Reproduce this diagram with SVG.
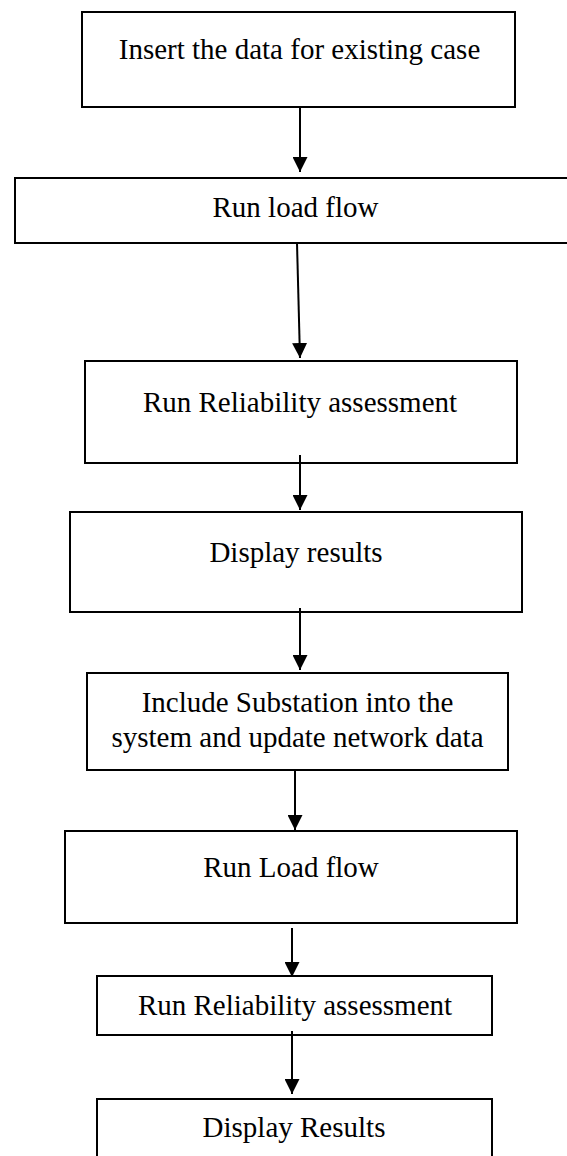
<svg xmlns="http://www.w3.org/2000/svg" width="567" height="1156" viewBox="0 0 567 1156">
<style>
.box{fill:#fff;stroke:#000;stroke-width:2}
.lbl{font-family:"Liberation Serif","Times New Roman",serif;font-size:29px;fill:#000;text-anchor:middle}
.conn{stroke:#000;stroke-width:2;fill:none;marker-end:url(#ah)}
</style>
<defs>
<marker id="ah" markerUnits="userSpaceOnUse" markerWidth="16" markerHeight="15" refX="15" refY="7.5" orient="auto">
<path d="M0,0 L15,7.5 L0,15 z" fill="#000"/>
</marker>
</defs>
<rect width="567" height="1156" fill="#fff"/>
<g id="n1"><rect class="box" x="82" y="12" width="433" height="95"/><text class="lbl" x="299.5" y="59">Insert the data for existing case</text></g>
<g id="n2"><rect class="box" x="15" y="178" width="560" height="65"/><text class="lbl" x="295.5" y="217">Run load flow</text></g>
<g id="n3"><rect class="box" x="85" y="361" width="432" height="102"/><text class="lbl" x="300" y="412">Run Reliability assessment</text></g>
<g id="n4"><rect class="box" x="70" y="512" width="452" height="100"/><text class="lbl" x="296" y="562">Display results</text></g>
<g id="n5"><rect class="box" x="87" y="673" width="421" height="97"/><text class="lbl" x="297.5" y="712">Include Substation into the</text><text class="lbl" x="297.5" y="747">system and update network data</text></g>
<g id="n6"><rect class="box" x="65" y="831" width="452" height="92"/><text class="lbl" x="291" y="877">Run Load flow</text></g>
<g id="n7"><rect class="box" x="97" y="976" width="395" height="59"/><text class="lbl" x="295" y="1015">Run Reliability assessment</text></g>
<g id="n8"><rect class="box" x="97" y="1099" width="395" height="70"/><text class="lbl" x="294" y="1137">Display Results</text></g>
<g id="connectors">
<line class="conn" x1="300" y1="107" x2="300" y2="172"/>
<line class="conn" x1="297" y1="243" x2="300" y2="358"/>
<line class="conn" x1="300" y1="455" x2="300" y2="510"/>
<line class="conn" x1="300" y1="608" x2="300" y2="670"/>
<line class="conn" x1="295" y1="770" x2="295" y2="830"/>
<line class="conn" x1="292" y1="928" x2="292" y2="977"/>
<line class="conn" x1="292" y1="1031" x2="292" y2="1094"/>
</g>
</svg>
